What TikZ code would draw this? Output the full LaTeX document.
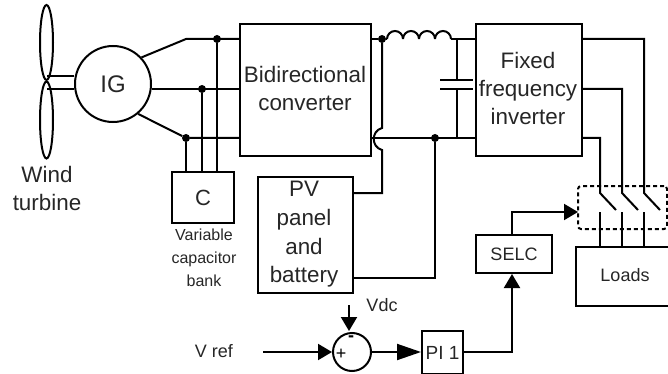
\documentclass[tikz,border=0pt]{standalone}
\usepackage{fontspec}
\setmainfont{Liberation Sans}
\usetikzlibrary{arrows.meta,shapes.geometric}
\tikzset{
  wire/.style={line width=2pt},
  arrowwire/.style={wire, -{Triangle[length=14pt,width=16pt]}},
  longarrowwire/.style={wire, -{Triangle[length=24pt,width=16pt]}},
  blockbox/.style={draw, line width=2pt, rectangle, inner sep=0pt, align=center, text=black!85, font=\fontsize{22}{28}\selectfont},
  smalltext/.style={align=center, text=black!85, font=\fontsize{16}{23}\selectfont},
  midtext/.style={align=center, text=black!85, font=\fontsize{18}{23}\selectfont},
  bigtext/.style={align=center, text=black!85, font=\fontsize{22.4}{28}\selectfont},
  dot/.style={circle, fill=black, inner sep=0pt, minimum size=8pt},
}
\begin{document}
\begin{tikzpicture}[x=1pt,y=-1pt]
\useasboundingbox (0,0) rectangle (668,374);
% turbine
\node[draw, wire, ellipse, minimum width=13pt, minimum height=75pt, inner sep=0pt] (bladeup) at (46.5,42.5) {};
\node[draw, wire, ellipse, minimum width=13pt, minimum height=77pt, inner sep=0pt] (bladedown) at (46.5,120) {};
\node[draw, wire, circle, minimum size=76pt, inner sep=0pt, text=black!85, font=\fontsize{24}{24}\selectfont] (ig) at (113,84) {IG};
\node[bigtext] (windlabel) at (47,188) {Wind\\turbine};
\coordinate (shaftup) at (47,76);
\coordinate (shaftdown) at (47,89);
\draw[wire] (shaftup)--(ig.west |- shaftup) (shaftdown)--(ig.west |- shaftdown);
% boxes
\node[blockbox, minimum width=131pt, minimum height=132pt, anchor=north west] (bidir) at (239,23) {};
\node[bigtext] (bidirlabel) at (305,88) {Bidirectional\\converter};
\node[blockbox, minimum width=106pt, minimum height=132pt, anchor=north west] (inverter) at (475,23) {};
\node[bigtext] (inverterlabel) at (528,88) {Fixed\\frequency\\inverter};
\node[blockbox, minimum width=62pt, minimum height=51pt, anchor=north west] (cap) at (171,171) {C};
\node[smalltext] (caplabel) at (204,258) {Variable\\capacitor\\bank};
\node[blockbox, minimum width=95pt, minimum height=116pt, anchor=north west] (pv) at (257,176) {};
\node[bigtext, font=\fontsize{22.4}{28.6}\selectfont] (pvlabel) at (304,234.5) {PV\\panel\\and\\battery};
\node[blockbox, minimum width=76pt, minimum height=38pt, anchor=north west, font=\fontsize{18}{20}\selectfont] (selc) at (475,234) {SELC};
\node[blockbox, minimum width=97pt, minimum height=59pt, anchor=north west] (loads) at (575,246) {};
\node[midtext] (loadslabel) at (625,275) {Loads};
\node[blockbox, minimum width=41pt, minimum height=43pt, anchor=north west, font=\fontsize{19}{20}\selectfont] (pi) at (421,330) {PI 1};
\node[draw, wire, circle, minimum size=38pt, inner sep=0pt] (sum) at (352,352) {};
\node[font=\fontsize{18}{18}\selectfont] (plus) at (341,354) {+};
\node[font=\bfseries\fontsize{18}{18}\selectfont] (minus) at (351,339) {-};
\node[midtext] (vdclabel) at (382,305) {Vdc};
\node[midtext] (vreflabel) at (214,351) {V ref};
% generator side
\node[dot] (ja) at (217,39) {};
\node[dot] (jb) at (202,89) {};
\node[dot] (jc) at (186,138) {};
\coordinate (kneeup) at (186,39);
\draw[wire] (ig.43)--(kneeup)--(bidir.west |- kneeup);
\draw[wire] (ig.east |- jb)--(bidir.west |- jb);
\draw[wire] (ig.-50)--(jc)--(bidir.west |- jc);
\draw[wire] (ja)--(cap.north -| ja);
\draw[wire] (jb)--(cap.north -| jb);
\draw[wire] (jc)--(cap.north -| jc);
% filter
\node[dot] (jd) at (382,39) {};
\node[dot] (je) at (435,138) {};
\coordinate (lstart) at (387,39);
\coordinate (lend) at (451,39);
\coordinate (capup) at (457,80);
\coordinate (capdown) at (457,89);
\draw[wire] (bidir.east |- jd)--(jd)--(lstart);
\foreach \i in {0,1,2,3}
  \draw[wire] (387+16*\i,39) arc[start angle=180, end angle=360, radius=8];
\draw[wire] (lend)--(inverter.west |- lend);
\draw[wire] (bidir.east |- je)--(inverter.west |- je);
\draw[wire] (457,39)--(capup);
\draw[wire] (capdown)--(457,138);
\draw[wire] (440,80)--(473,80) (440,89)--(473,89);
% source feed with a hop
\coordinate (hopup) at (382,128);
\coordinate (hopdown) at (382,150);
\coordinate (pvup) at (382,193);
\coordinate (pvdown) at (435,278);
\draw[wire] (jd)--(hopup) .. controls (371,131) and (371,147) .. (hopdown)--(pvup)--(pv.east |- pvup);
\draw[wire] (je)--(pvdown)--(pv.east |- pvdown);
% outputs and switches
\coordinate (outa) at (644,39);
\coordinate (outb) at (622,89);
\coordinate (outc) at (600,138);
\foreach \x/\n in {644/a,622/b,600/c}{
  \coordinate (sw\n) at (\x,193);
  \coordinate (tip\n) at (\x+16,210);
  \coordinate (stub\n) at (\x,212);
  \draw[wire] (inverter.east |- out\n)--(out\n)--(sw\n)--(tip\n);
  \draw[wire] (stub\n)--(loads.north -| stub\n);
}
\coordinate (dashne) at (667,186);
\coordinate (dashse) at (667,229);
\coordinate (dashnw) at (578,186);
\coordinate (dashsw) at (578,229);
\draw[wire, dash pattern=on 4pt off 3pt, rounded corners=3pt] (dashne)--(dashnw)--(dashsw)--(dashse)--cycle;
% control loop
\coordinate (selcknee) at (512,212);
\coordinate (piknee) at (512,352);
\coordinate (vrefstart) at (263,352);
\coordinate (vdcstart) at (349,305);
\coordinate (vdcend) at (349,331);
\draw[arrowwire] (selc.north -| selcknee)--(selcknee)--(dashsw |- selcknee);
\draw[arrowwire] (pi.east |- piknee)--(piknee)--(selc.south -| piknee);
\draw[arrowwire] (vrefstart)--(sum.west);
\draw[arrowwire] (vdcstart)--(vdcend);
\draw[longarrowwire] (sum.east)--(pi.west |- sum.east);
\end{tikzpicture}
\end{document}
